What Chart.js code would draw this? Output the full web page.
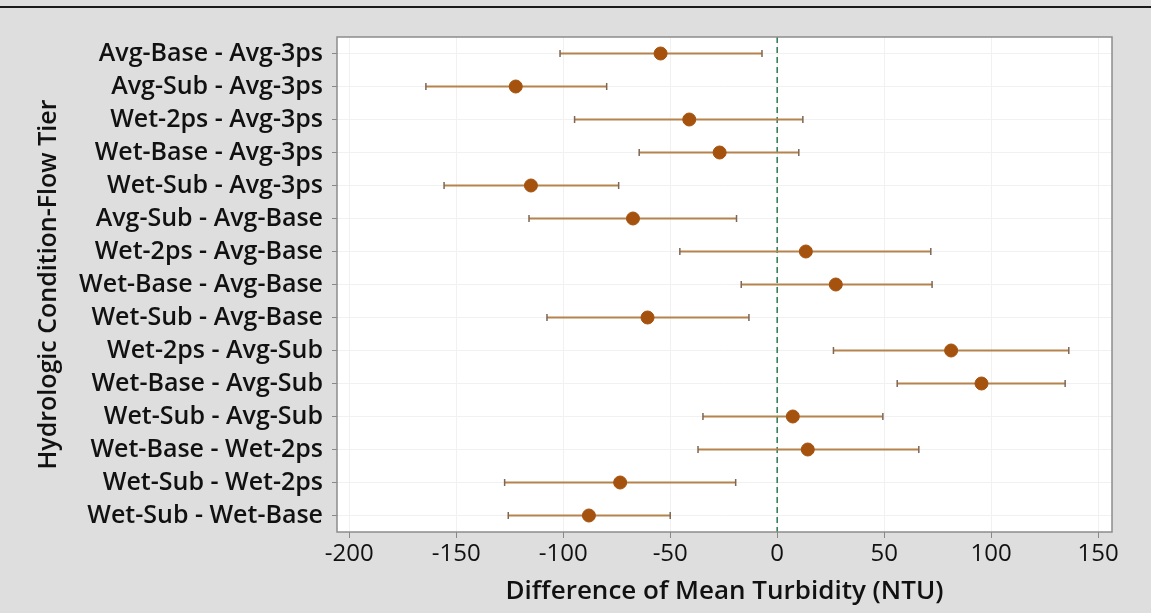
<!DOCTYPE html>
<html>
<head>
<meta charset="utf-8">
<script src="https://cdn.jsdelivr.net/npm/chart.js@4/dist/chart.umd.min.js"></script>
<style>
  html, body { margin: 0; padding: 0; background: #dedede; }
  #wrap { width: 1151px; height: 613px; }
</style>
</head>
<body>
<div id="wrap"><canvas id="chart" width="1151" height="613"></canvas></div>
<script>
// comparisons, top to bottom
const pairs = [
    'Avg-Base - Avg-3ps', 'Avg-Sub - Avg-3ps', 'Wet-2ps - Avg-3ps', 'Wet-Base - Avg-3ps',
    'Wet-Sub - Avg-3ps', 'Avg-Sub - Avg-Base', 'Wet-2ps - Avg-Base', 'Wet-Base - Avg-Base',
    'Wet-Sub - Avg-Base', 'Wet-2ps - Avg-Sub', 'Wet-Base - Avg-Sub', 'Wet-Sub - Avg-Sub',
    'Wet-Base - Wet-2ps', 'Wet-Sub - Wet-2ps', 'Wet-Sub - Wet-Base'
];
const diffMean = [-54.5, -122.2, -41.1, -26.9, -115.1, -67.4, 13.4, 27.4, -60.6, 81.3, 95.5, 7.3, 14.3, -73.4, -88.0];
const lowerCI  = [-101.5, -164.2, -94.7, -64.5, -155.7, -116.0, -45.5, -16.8, -107.6, 26.3, 56.1, -34.7, -37.0, -127.4, -125.7];
const upperCI  = [-7.1, -79.7, 12.0, 10.1, -74.1, -19.0, 71.8, 72.4, -13.2, 136.3, 134.6, 49.4, 66.2, -19.4, -50.0];
const xTicks   = [-200, -150, -100, -50, 0, 50, 100, 150];

const FONT = "'Open Sans', 'DejaVu Sans', sans-serif";

// background, top rule, plot frame, zero line and CI whiskers
const intervalPlugin = {
    id: 'intervals',
    beforeDraw(chart) {
        const ctx = chart.ctx;
        ctx.save();
        ctx.fillStyle = '#dedede';
        ctx.fillRect(0, 0, chart.width, chart.height);
        ctx.fillStyle = '#1a1a1a';
        ctx.fillRect(0, 6, chart.width, 2);
        const a = chart.chartArea;
        ctx.fillStyle = '#ffffff';
        ctx.fillRect(a.left, a.top, a.right - a.left, a.bottom - a.top);
        ctx.restore();
    },
    beforeDatasetsDraw(chart) {
        const ctx = chart.ctx;
        const xs = chart.scales.x, ys = chart.scales.y;
        const a = chart.chartArea;
        ctx.save();
        // reference line at 0
        const x0 = xs.getPixelForValue(0);
        ctx.strokeStyle = '#2b7a50';
        ctx.lineWidth = 1.5;
        ctx.setLineDash([6, 4]);
        ctx.beginPath();
        ctx.moveTo(x0, a.top);
        ctx.lineTo(x0, a.bottom);
        ctx.stroke();
        ctx.setLineDash([]);
        // whiskers
        pairs.forEach((p, i) => {
            const y = ys.getPixelForValue(i);
            const xl = xs.getPixelForValue(lowerCI[i]);
            const xh = xs.getPixelForValue(upperCI[i]);
            ctx.strokeStyle = '#b5834d';
            ctx.lineWidth = 2;
            ctx.beginPath();
            ctx.moveTo(xl, y);
            ctx.lineTo(xh, y);
            ctx.stroke();
            ctx.strokeStyle = '#7d6654';
            ctx.lineWidth = 1.5;
            ctx.beginPath();
            ctx.moveTo(xl, y - 3.5);
            ctx.lineTo(xl, y + 3.5);
            ctx.moveTo(xh, y - 3.5);
            ctx.lineTo(xh, y + 3.5);
            ctx.stroke();
        });
        ctx.restore();
    },
    afterDraw(chart) {
        const ctx = chart.ctx;
        const a = chart.chartArea;
        ctx.save();
        ctx.strokeStyle = '#8c8c8c';
        ctx.lineWidth = 1.5;
        ctx.strokeRect(a.left, a.top, a.right - a.left, a.bottom - a.top);
        ctx.restore();
    }
};

new Chart(document.getElementById('chart'), {
    type: 'scatter',
    data: {
        datasets: [{
            label: 'Difference of Means',
            data: diffMean.map((v, i) => ({ x: v, y: i })),
            backgroundColor: '#a5520f',
            borderColor: '#a5520f',
            pointRadius: 6.5,
            pointHoverRadius: 6.5
        }]
    },
    options: {
        responsive: false,
        animation: false,
        layout: { padding: { left: 0, top: 37, right: 39, bottom: 0 } },
        plugins: {
            legend: { display: false },
            tooltip: { enabled: false }
        },
        scales: {
            x: {
                type: 'linear',
                min: -205.75,
                max: 156.5,
                afterBuildTicks: s => { s.ticks = xTicks.map(v => ({ value: v })); },
                afterFit: s => { s.height = 81; },
                grid: { color: '#f1f1f1', tickColor: '#888', tickLength: 6, lineWidth: 1 },
                border: { display: false },
                ticks: { color: '#111', padding: 2, font: { family: FONT, size: 24, weight: '500' } },
                title: {
                    display: true,
                    text: 'Difference of Mean Turbidity (NTU)',
                    color: '#111',
                    padding: { top: 0, bottom: 6 },
                    font: { family: FONT, size: 26, weight: '600' }
                }
            },
            y: {
                type: 'category',
                labels: pairs,
                offset: true,
                afterFit: s => { s.width = 337; },
                grid: { offset: false, color: '#f1f1f1', tickColor: '#888', tickLength: 5, lineWidth: 1 },
                border: { display: false },
                ticks: { color: '#111', padding: 9, font: { family: FONT, size: 25, weight: '600' } },
                title: {
                    display: true,
                    text: 'Hydrologic Condition-Flow Tier',
                    color: '#111',
                    padding: { top: 34, bottom: 4 },
                    font: { family: FONT, size: 25, weight: '600' }
                }
            }
        }
    },
    plugins: [intervalPlugin]
});
</script>
</body>
</html>
